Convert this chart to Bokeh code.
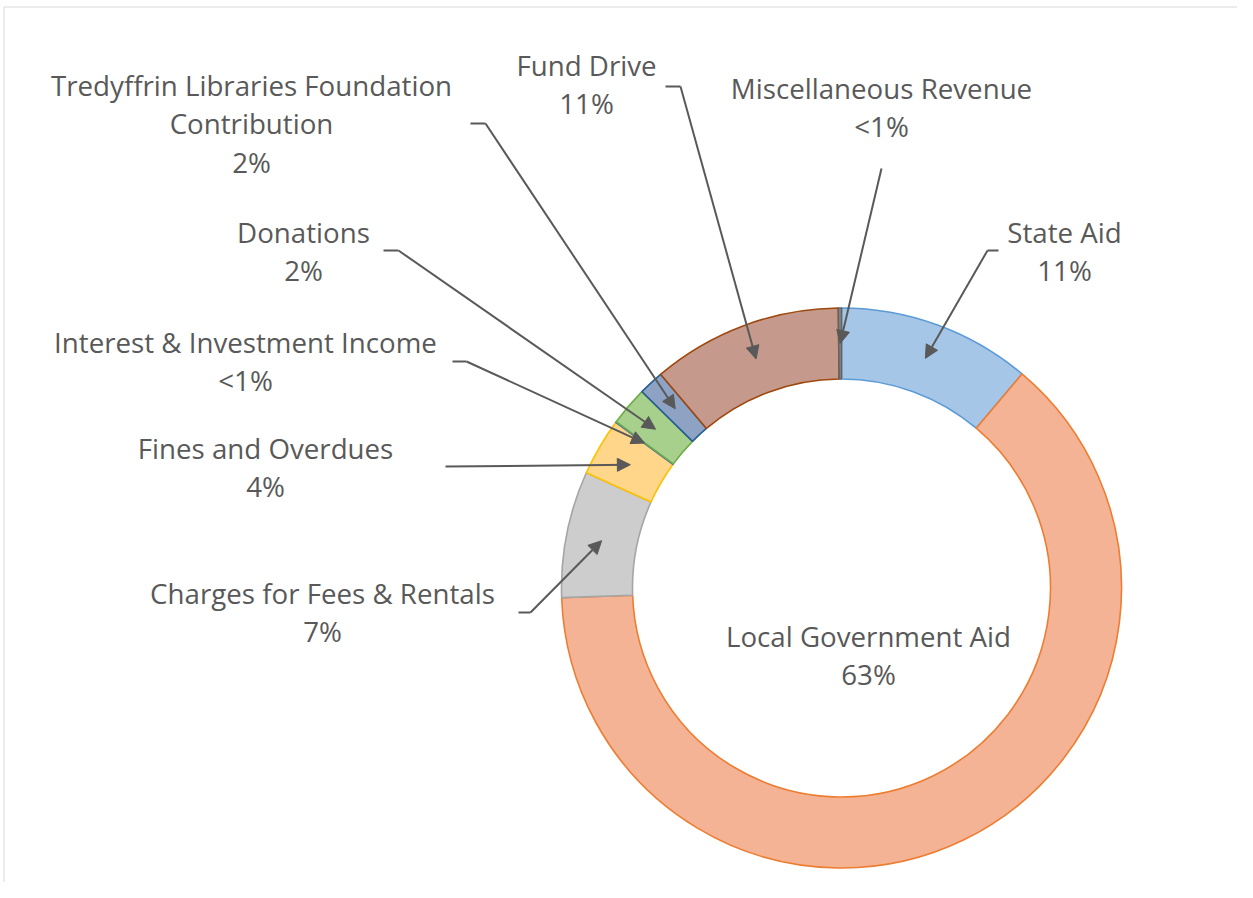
import math
from bokeh.plotting import figure
from bokeh.models import Range1d, Arrow, NormalHead
from bokeh.core.properties import value
from bokeh.embed import file_html
from bokeh.resources import INLINE

# ---------------- data ----------------
categories = [
    "State Aid",
    "Local Government Aid",
    "Charges for Fees & Rentals",
    "Fines and Overdues",
    "Interest & Investment Income",
    "Donations",
    "Tredyffrin Libraries Foundation\nContribution",
    "Fund Drive",
    "Miscellaneous Revenue",
]
shares = [11.15, 63.3, 7.3, 3.32, 0.05, 2.25, 1.45, 11.0, 0.18]
pct_labels = ["11%", "63%", "7%", "4%", "<1%", "2%", "2%", "11%", "<1%"]
fill_colors = ["#A6C6E8", "#F5B396", "#CDCDCD", "#FFD68A", "#A2B9E1",
               "#A8D08D", "#8EA3C4", "#C59A8C", "#8A8A8A"]
line_colors = ["#5B9BD5", "#ED7D31", "#A5A5A5", "#FFC000", "#4472C4",
               "#70AD47", "#255E91", "#9E480E", "#636363"]

# ---------------- layout (page pixels) ----------------
W, H = 1237, 882
CX, CY = 841, 587.5          # donut centre on the page
R_OUT, R_IN = 280, 209
TEXT_COLOR = "#595959"
FONT = "Open Sans"
FONT_SIZE = "27.7px"
LINE_STEP = 38.5

# first baseline (centre x, baseline y) of each label
label_pos = [(1064, 231), (868, 635), (322, 592), (265, 447), (245, 341),
             (303, 231), (251, 84), (586, 64), (881, 87)]
# leader-line knee points (page px); None = no leader
leader_pts = [
    [(998, 250), (987, 250)],
    None,
    [(518, 612), (530, 612)],
    [(445, 466)],
    [(452, 361), (466, 361)],
    [(383, 250), (398, 250)],
    [(470, 123), (485, 123)],
    [(665, 86), (680, 86)],
    [(881, 168)],
]


def P(px, py):
    return px - CX, CY - py


x0, y0 = P(0, H)
x1, y1 = P(W, 0)
p = figure(width=W, height=H, output_backend="svg", toolbar_location=None,
           x_range=Range1d(x0, x1), y_range=Range1d(y0, y1),
           min_border=0, match_aspect=False)
p.axis.visible = False
p.grid.visible = False
p.outline_line_color = None
p.background_fill_color = "white"

# light chart border (top & left)
bx, by = P(3.5, 6.5)
bx2, _ = P(W, 6.5)
_, by2 = P(3.5, H)
p.segment(x0=[bx, bx], y0=[by, by], x1=[bx2, bx], y1=[by, by2],
          line_color="#D9D9D9", line_width=1)

# ---------------- wedges ----------------
total = sum(shares)
starts, ends, mids = [], [], []
acc = 0.0
for s in shares:
    a0 = acc / total * 2 * math.pi
    acc += s
    a1 = acc / total * 2 * math.pi
    starts.append(math.pi / 2 - a1)
    ends.append(math.pi / 2 - a0)
    mids.append((a0 + a1) / 2)

p.annular_wedge(x=[0] * len(shares), y=[0] * len(shares),
                inner_radius=R_IN, outer_radius=R_OUT,
                start_angle=starts, end_angle=ends, direction="anticlock",
                fill_color=fill_colors, line_color=line_colors, line_width=1.6)

# ---------------- leader lines ----------------
r_mid = (R_IN + R_OUT) / 2
for i, pts in enumerate(leader_pts):
    if not pts:
        continue
    tip = (r_mid * math.sin(mids[i]), r_mid * math.cos(mids[i]))
    dpts = [P(*q) for q in pts]
    if len(dpts) > 1:
        p.line([q[0] for q in dpts], [q[1] for q in dpts],
               line_color=TEXT_COLOR, line_width=2)
    last = dpts[-1]
    p.add_layout(Arrow(end=NormalHead(size=13, fill_color=TEXT_COLOR,
                                      line_color=TEXT_COLOR, line_width=1),
                       x_start=last[0], y_start=last[1],
                       x_end=tip[0], y_end=tip[1],
                       line_color=TEXT_COLOR, line_width=2))

# ---------------- labels ----------------
tx, ty, tt = [], [], []
for i, name in enumerate(categories):
    lines = name.split("\n") + [pct_labels[i]]
    px, py = label_pos[i]
    for k, ln in enumerate(lines):
        dx, dy = P(px, py + k * LINE_STEP)
        tx.append(dx)
        ty.append(dy)
        tt.append(ln)

p.text(x=tx, y=ty, text=tt, text_align="center", text_baseline="alphabetic",
       text_font=value(FONT), text_font_size=FONT_SIZE, text_color=TEXT_COLOR)

open("out.html", "w").write(file_html(p, INLINE))
